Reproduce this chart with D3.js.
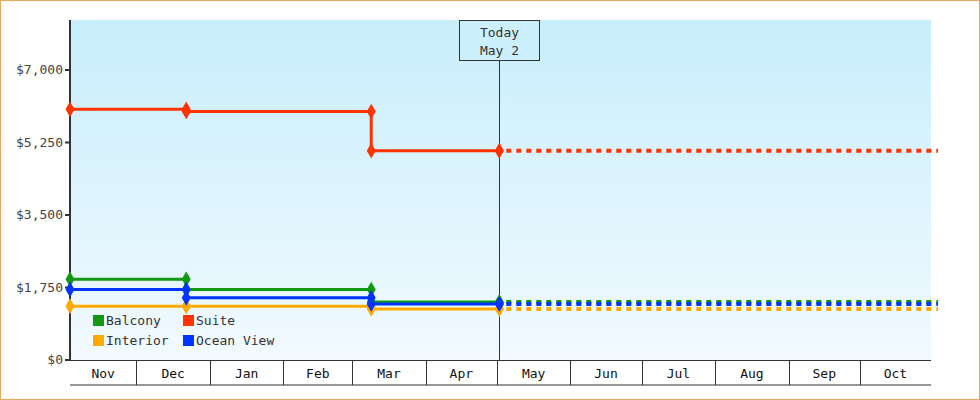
<!DOCTYPE html><html><head><meta charset="utf-8">
<script src="https://cdn.jsdelivr.net/npm/d3@7"></script>
<style>body{margin:0;background:#fff}svg{display:block;font-family:"DejaVu Sans Mono",monospace}</style>
</head><body><svg id="c" width="980" height="400"></svg>
<script>
const seriesNames=["Balcony","Suite","Interior","Ocean View"];
const seriesColors=["#119911","#ff3300","#ffaa00","#0033ff"];
const pointDates=["2023-11-03","2023-12-22","2024-03-09","2024-05-02"];
const balcony=[1950,1700,1400,1400];
const suite=[6050,6000,5050,5050];
const interior=[1300,1300,1230,1230];
const oceanView=[1700,1500,1350,1350];
const yTicks=[0,1750,3500,5250,7000];
const monthLabels=["Nov","Dec","Jan","Feb","Mar","Apr","May","Jun","Jul","Aug","Sep","Oct"];
const todayDate="2024-05-02", todayLabel=["Today","May 2"];
const domainStart="2023-11-03", domainEnd="2024-10-31";

const P=d3.timeParse("%Y-%m-%d");
const svg=d3.select("#c");
const L=70,R=931,T=20,B=360;
const x=d3.scaleTime().domain([P(domainStart),P(domainEnd)]).range([L,R]);
const y=d3.scaleLinear().domain([0,7000]).range([B,70]);
const defs=svg.append("defs");
const g=defs.append("linearGradient").attr("id","bg").attr("x1",0).attr("y1",0).attr("x2",0).attr("y2",1);
g.append("stop").attr("offset",0).attr("stop-color","#c8eefc");
g.append("stop").attr("offset",1).attr("stop-color","#f2faff");
svg.append("rect").attr("x",0.5).attr("y",0.5).attr("width",979).attr("height",399).attr("fill","#fff").attr("stroke","#e8a860");
svg.append("rect").attr("x",L).attr("y",T).attr("width",R-L).attr("height",B-T).attr("fill","url(#bg)");
svg.append("line").attr("x1",L).attr("x2",L).attr("y1",T).attr("y2",B).attr("stroke","#333").attr("stroke-width",2);
yTicks.forEach(v=>{
 svg.append("line").attr("x1",L-5).attr("x2",L).attr("y1",y(v)).attr("y2",y(v)).attr("stroke","#333").attr("stroke-width",2);
 svg.append("text").attr("x",L-7).attr("y",y(v)+4).attr("text-anchor","end").attr("font-size",13).attr("fill","#444").text("$"+d3.format(",")(v));
});
const months=d3.timeMonth.range(d3.timeMonth.floor(P(domainStart)),P(domainEnd));
svg.append("line").attr("x1",L).attr("x2",R).attr("y1",385).attr("y2",385).attr("stroke","#333");
svg.append("line").attr("x1",L).attr("x2",R).attr("y1",B+0.5).attr("y2",B+0.5).attr("stroke","#333");
months.forEach((m,i)=>{
 const a=Math.max(L,x(m)), b=Math.min(R,x(d3.timeMonth.offset(m,1)));
 if(i>0) svg.append("line").attr("x1",Math.round(a)+0.5).attr("x2",Math.round(a)+0.5).attr("y1",B).attr("y2",385).attr("stroke","#333");
 svg.append("text").attr("x",(a+b)/2).attr("y",378).attr("text-anchor","middle").attr("font-size",13).attr("fill","#111").text(monthLabels[i]);
});
const tx=Math.round(x(P(todayDate)))+0.5;
svg.append("line").attr("x1",tx).attr("x2",tx).attr("y1",60).attr("y2",B).attr("stroke","#333");
svg.append("rect").attr("x",tx-40).attr("y",20.5).attr("width",80).attr("height",40).attr("fill","#ccf0fd").attr("stroke","#333");
todayLabel.forEach((t,i)=>svg.append("text").attr("x",tx).attr("y",37+i*18).attr("text-anchor","middle").attr("font-size",13).attr("fill","#333").text(t));
const data=[balcony,suite,interior,oceanView];
const order=[2,0,3,1];
const line=d3.line().x(d=>x(d.d)).y(d=>y(d.v)).curve(d3.curveStepAfter);
order.forEach(k=>{
 const pts=pointDates.map((d,i)=>({d:P(d),v:data[k][i]}));
 svg.append("path").attr("d",line(pts)).attr("fill","none").attr("stroke",seriesColors[k]).attr("stroke-width",3);
 const last=pts[pts.length-1];
 svg.append("path").attr("d",line([last,{d:P(domainEnd),v:last.v}])).attr("fill","none").attr("stroke",seriesColors[k]).attr("stroke-width",4).attr("stroke-dasharray","5,5").attr("transform","translate(7,0)");
 const marks=[];
 pts.forEach((p,i)=>{ if(i>0) marks.push({d:p.d,v:pts[i-1].v}); marks.push(p); });
 marks.forEach(p=>svg.append("path").attr("d",d3.symbol(d3.symbolDiamond,70)()).attr("transform",`translate(${x(p.d)},${y(p.v)})`).attr("fill",seriesColors[k]));
});
seriesNames.forEach((n,i)=>{
 const lx=93+(i%2)*90, ly=315+Math.floor(i/2)*20;
 svg.append("rect").attr("x",lx).attr("y",ly).attr("width",11).attr("height",11).attr("fill",seriesColors[i]);
 svg.append("text").attr("x",lx+13).attr("y",ly+10).attr("font-size",13).attr("fill","#333").text(n);
});
</script></body></html>
